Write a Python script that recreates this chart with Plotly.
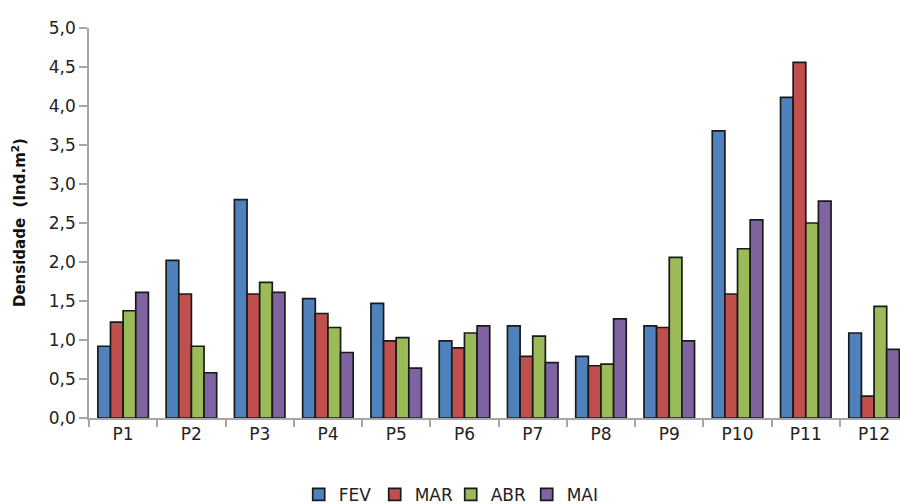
import plotly.graph_objects as go

categories = ["P1", "P2", "P3", "P4", "P5", "P6", "P7", "P8", "P9", "P10", "P11", "P12"]
fev = [0.92, 2.02, 2.80, 1.53, 1.47, 0.99, 1.18, 0.79, 1.18, 3.68, 4.11, 1.09]
mar = [1.23, 1.59, 1.59, 1.34, 0.99, 0.90, 0.79, 0.67, 1.16, 1.59, 4.56, 0.28]
abr = [1.375, 0.92, 1.74, 1.16, 1.03, 1.09, 1.05, 0.69, 2.06, 2.17, 2.50, 1.43]
mai = [1.61, 0.58, 1.61, 0.84, 0.64, 1.18, 0.71, 1.27, 0.99, 2.54, 2.78, 0.88]

series = [("FEV", fev, "#4F81BD"), ("MAR", mar, "#C0504D"),
          ("ABR", abr, "#9BBB59"), ("MAI", mai, "#8064A2")]
y_ticks = [0, 0.5, 1, 1.5, 2, 2.5, 3, 3.5, 4, 4.5, 5]

fig = go.Figure()
for name, vals, col in series:
    fig.add_trace(go.Bar(x=categories, y=vals, name=name,
                         marker=dict(color=col, line=dict(color="#1a1a1a", width=1.7))))

L, R, T, B = 89, 0, 28, 86
fig.update_layout(
    width=900, height=504,
    margin=dict(l=L, r=R, t=T, b=B, autoexpand=False),
    plot_bgcolor="white", paper_bgcolor="white",
    barmode="group", bargap=0.26, bargroupgap=0,
    separators=",.",
    font=dict(family="DejaVu Sans", color="#222222"),
    showlegend=True,
    legend=dict(orientation="h", x=0.446, xanchor="center", y=-0.197, yanchor="middle",
                font=dict(size=17, color="#222222"), itemwidth=30,
                entrywidth=31, entrywidthmode="pixels",
                traceorder="normal"),
)
fig.update_xaxes(
    type="category", range=[-0.5, 11.38],
    showline=True, linecolor="#a6a6a6", linewidth=1.5,
    ticks="outside", tickson="boundaries", ticklen=7, tickcolor="#a6a6a6", tickwidth=1.5,
    tickfont=dict(size=17, color="#222222"), showgrid=False, zeroline=False,
)
fig.update_yaxes(
    range=[0, 5], tickvals=y_ticks, tickformat=".1f",
    showline=True, linecolor="#a6a6a6", linewidth=1.5,
    ticks="outside", ticklen=8, tickcolor="#a6a6a6", tickwidth=1.5,
    tickfont=dict(size=17, color="#222222"), showgrid=False, zeroline=False,
)
fig.add_annotation(
    text="<b>Densidade  (Ind.m<sup>2</sup>)</b>", textangle=-90,
    xref="paper", yref="paper", x=(19 - L) / (900 - L - R), y=0.5,
    xanchor="center", yanchor="middle", showarrow=False,
    font=dict(size=15, color="#111111"),
)
fig.write_html("out.html", config={"displayModeBar": False},
               post_script="document.body.style.margin='0px';document.body.style.overflow='hidden';")
